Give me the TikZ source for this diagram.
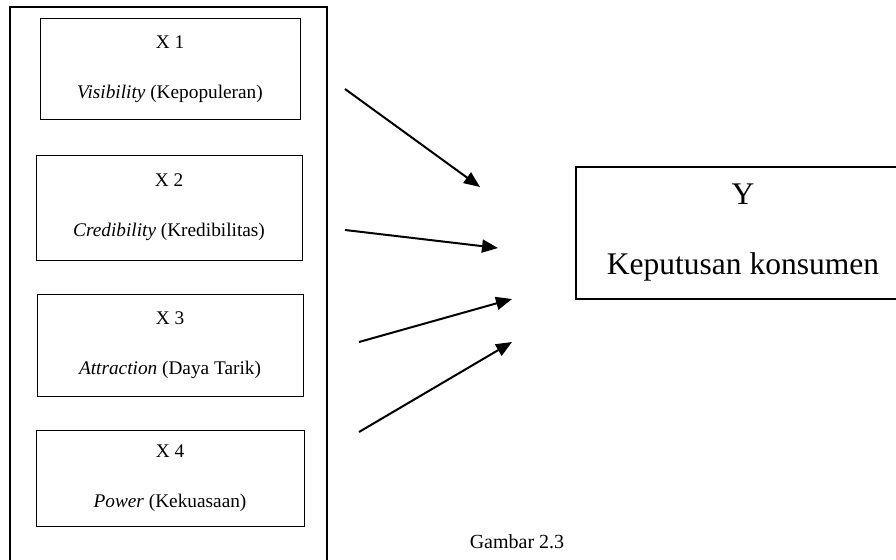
\documentclass[tikz,border=0pt]{standalone}
\usepackage{fontspec}
\setmainfont{Liberation Serif}
\usepackage{tikz}
\usetikzlibrary{positioning,arrows.meta}

\begin{document}
\begin{tikzpicture}[x=1pt, y=-1pt, font=\fontsize{19.3}{22}\selectfont]
  \tikzstyle{var}=[rectangle,draw,line width=1pt,inner sep=0pt,align=center]
  \tikzstyle{arr}=[-{Triangle[length=16pt,width=13pt]},line width=2pt]
  \useasboundingbox (0,0) rectangle (896,559);
  \draw[line width=1.8pt] (10,7) rectangle (327,580);
  \node[var,minimum width=260pt,minimum height=101pt](x1) at (170,69.5)
       {X 1\\[28pt]\textit{Visibility} (Kepopuleran)};
  \node[var,minimum width=266pt,minimum height=105pt](x2) at (169,207.5)
       {X 2\\[28pt]\textit{Credibility} (Kredibilitas)};
  \node[var,minimum width=266pt,minimum height=102pt](x3) at (170,345)
       {X 3\\[28pt]\textit{Attraction} (Daya Tarik)};
  \node[var,minimum width=268pt,minimum height=96pt](x4) at (170,478)
       {X 4\\[28pt]\textit{Power} (Kekuasaan)};
  \node[var,line width=1.5pt,minimum width=334pt,minimum height=132pt,
        font=\fontsize{31.5}{35}\selectfont](y) at (743,233)
       {Y\\[35pt]Keputusan konsumen};
  \node[font=\fontsize{20}{24}\selectfont](cap) at (517,542){Gambar 2.3};
  \coordinate (s1) at (345,89);  \coordinate (e1) at (480,187);
  \coordinate (s2) at (345,230); \coordinate (e2) at (498,248);
  \coordinate (s3) at (359,342); \coordinate (e3) at (512,299);
  \coordinate (s4) at (359,432); \coordinate (e4) at (512,342);
  \draw[arr](s1)--(e1); \draw[arr](s2)--(e2);
  \draw[arr](s3)--(e3); \draw[arr](s4)--(e4);
\end{tikzpicture}
\end{document}
